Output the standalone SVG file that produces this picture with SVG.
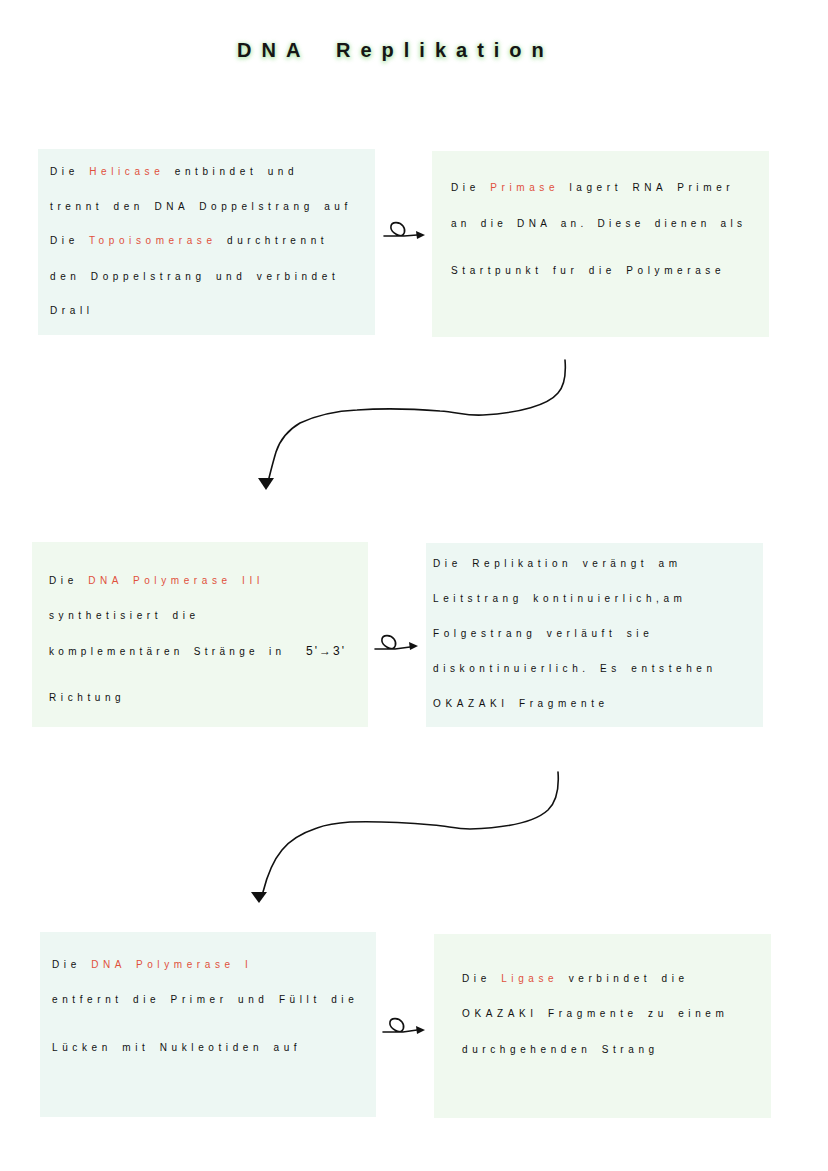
<svg xmlns="http://www.w3.org/2000/svg" width="828" height="1171" viewBox="0 0 828 1171">
<defs>
<style>
.t{font-family:"Liberation Sans",Arial,sans-serif;font-size:10px;letter-spacing:4.6px;word-spacing:3px;fill:#111111}
.r{fill:#e0503c}
.ttl{font-family:"Liberation Sans",Arial,sans-serif;font-size:20px;font-weight:bold;letter-spacing:10px;fill:#151515}
.glow{fill:#a9e2a2;stroke:#a9e2a2;stroke-width:2;opacity:0.8}
.bA{fill:#edf7f3}
.bB{fill:#f0f9ef}
.c{fill:none;stroke:#111;stroke-width:1.6;stroke-linecap:round;stroke-linejoin:round}
.h{fill:#111}
</style>
<filter id="blur" x="-10%" y="-50%" width="120%" height="200%"><feGaussianBlur stdDeviation="2"/></filter>
</defs>
<rect width="828" height="1171" fill="#ffffff"/>

<g id="title">
<text class="ttl glow" x="237" y="58" filter="url(#blur)">DNA <tspan x="336">Replikation</tspan></text>
<text class="ttl" x="237" y="57">DNA <tspan x="336">Replikation</tspan></text>
</g>

<g id="node1">
<rect class="bA" x="38" y="149" width="337" height="186"/>
<text class="t" x="50" y="175">Die <tspan class="r">Helicase</tspan> entbindet und</text>
<text class="t" x="50" y="210">trennt den DNA Doppelstrang auf</text>
<text class="t" x="50" y="244">Die <tspan class="r">Topoisomerase</tspan> durchtrennt</text>
<text class="t" x="50" y="280">den Doppelstrang und verbindet</text>
<text class="t" x="50" y="314">Drall</text>
</g>

<g id="node2">
<rect class="bB" x="432" y="151" width="337" height="186"/>
<text class="t" x="451" y="191">Die <tspan class="r">Primase</tspan> lagert RNA Primer</text>
<text class="t" x="451" y="227" style="letter-spacing:4.3px">an die DNA an. Diese dienen als</text>
<text class="t" x="451" y="274">Startpunkt fur die Polymerase</text>
</g>

<g id="node3">
<rect class="bB" x="32" y="542" width="336" height="185"/>
<text class="t" x="49" y="584">Die <tspan class="r">DNA Polymerase III</tspan></text>
<text class="t" x="49" y="619">synthetisiert die</text>
<text class="t" x="49" y="655" style="letter-spacing:4.3px">komplementären Stränge in <tspan x="306" style="letter-spacing:2px;font-size:12px">5'→3'</tspan></text>
<text class="t" x="49" y="701">Richtung</text>
</g>

<g id="node4">
<rect class="bA" x="426" y="543" width="337" height="184"/>
<text class="t" x="433" y="567">Die Replikation verängt am</text>
<text class="t" x="433" y="602">Leitstrang kontinuierlich,am</text>
<text class="t" x="433" y="637">Folgestrang verläuft sie</text>
<text class="t" x="433" y="672">diskontinuierlich. Es entstehen</text>
<text class="t" x="433" y="707">OKAZAKI Fragmente</text>
</g>

<g id="node5">
<rect class="bA" x="40" y="932" width="336" height="185"/>
<text class="t" x="52" y="968">Die <tspan class="r">DNA Polymerase I</tspan></text>
<text class="t" x="52" y="1003">entfernt die Primer und Füllt die</text>
<text class="t" x="52" y="1051">Lücken mit Nukleotiden auf</text>
</g>

<g id="node6">
<rect class="bB" x="434" y="934" width="337" height="184"/>
<text class="t" x="462" y="982">Die <tspan class="r">Ligase</tspan> verbindet die</text>
<text class="t" x="462" y="1017">OKAZAKI Fragmente zu einem</text>
<text class="t" x="462" y="1053">durchgehenden Strang</text>
</g>

<g id="connectors">
<path class="c" d="M384,236 L399,236 C405,236 406,230 403,226 C400,222 392,221 391,226 C390,231 396,236 404,236 L417,235"/>
<path class="h" d="M425,235 L416,231 L417,239 Z"/>
<path class="c" d="M375,649 L390,649 C396,649 397,643 394,639 C391,635 383,634 382,639 C381,644 387,649 395,649 L410,647"/>
<path class="h" d="M418,646 L409,642 L410,650 Z"/>
<path class="c" d="M383,1032 L398,1032 C404,1032 405,1026 402,1022 C399,1018 391,1017 390,1022 C389,1027 395,1032 403,1032 L417,1030"/>
<path class="h" d="M425,1030 L416,1026 L417,1034 Z"/>

<path class="c" d="M565,360 C566,372 565,385 558,393 C548,405 520,413 483,415 C465,416 458,412 440,411 C415,409 385,408 357,410 C335,411 315,416 300,423 C288,430 280,440 276,452 C273,462 271,470 269,478"/>
<path class="h" d="M258,478 L274,478 L266,490 Z"/>

<path class="c" d="M558,772 C559,785 558,800 548,810 C535,822 505,828 470,829 C455,829 448,826 433,825 C410,823 380,821 350,822 C335,823 325,825 317,828 C302,833 290,840 282,850 C272,862 267,876 263,892"/>
<path class="h" d="M251,892 L267,892 L259,903 Z"/>
</g>
</svg>
